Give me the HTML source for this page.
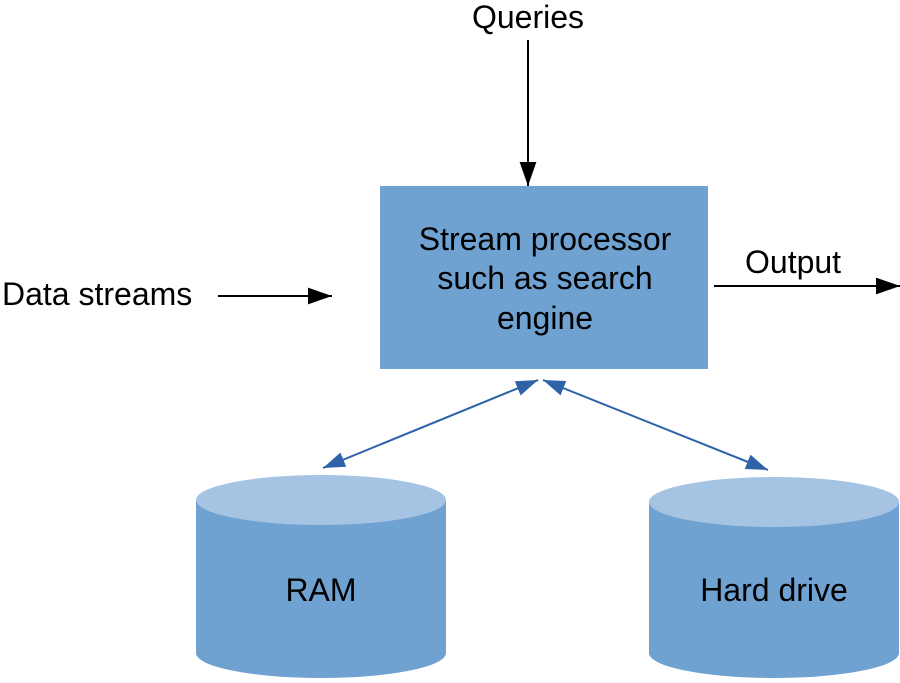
<!DOCTYPE html>
<html><head><style>body{margin:0;background:#fff}</style></head><body>
<svg width="900" height="678" xmlns="http://www.w3.org/2000/svg" font-family="Liberation Sans, sans-serif" font-size="32">
<defs>
<marker id="b" viewBox="0 0 10 10" refX="10" refY="5" markerWidth="22" markerHeight="22" orient="auto-start-reverse" markerUnits="userSpaceOnUse"><path d="M0,1.5 L10,5 L0,8.5 Z" fill="#2f63a8"/></marker>
<marker id="k2" viewBox="0 0 10 10" refX="10" refY="5" markerWidth="24" markerHeight="24" orient="auto" markerUnits="userSpaceOnUse"><path d="M0,1.5 L10,5 L0,8.5 Z" fill="#000"/></marker>
</defs>
<text x="528" y="28" text-anchor="middle">Queries</text>
<line x1="528" y1="40" x2="528" y2="186" stroke="#000" stroke-width="2" marker-end="url(#k2)"/>
<rect x="380" y="186" width="328" height="183" fill="#6fa1d1"/>
<text x="545" y="250" text-anchor="middle">Stream processor</text>
<text x="545" y="289" text-anchor="middle">such as search</text>
<text x="545" y="329" text-anchor="middle">engine</text>
<text x="2" y="305">Data streams</text>
<line x1="218" y1="296" x2="332" y2="296" stroke="#000" stroke-width="2" marker-end="url(#k2)"/>
<text x="745" y="273">Output</text>
<line x1="714" y1="286" x2="900" y2="286" stroke="#000" stroke-width="2" marker-end="url(#k2)"/>
<line x1="323" y1="468" x2="538" y2="380" stroke="#2f63a8" stroke-width="2" marker-start="url(#b)" marker-end="url(#b)"/>
<line x1="543" y1="380" x2="768" y2="470" stroke="#2f63a8" stroke-width="2" marker-start="url(#b)" marker-end="url(#b)"/>
<path d="M196,500 L196,653 A125,25 0 0 0 446,653 L446,500 Z" fill="#6fa1d1"/>
<ellipse cx="321" cy="500" rx="125" ry="25" fill="#a5c3e3"/>
<text x="321" y="601" text-anchor="middle">RAM</text>
<path d="M649,502 L649,653 A125,25 0 0 0 899,653 L899,502 Z" fill="#6fa1d1"/>
<ellipse cx="774" cy="502" rx="125" ry="25" fill="#a5c3e3"/>
<text x="774" y="601" text-anchor="middle">Hard drive</text>
</svg>
</body></html>
